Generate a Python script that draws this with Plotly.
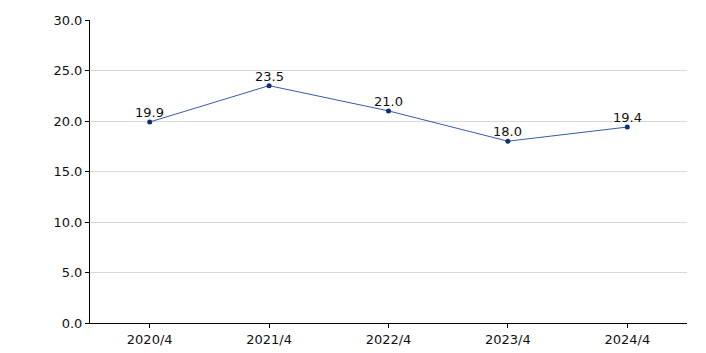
import plotly.graph_objects as go

categories = ["2020/4", "2021/4", "2022/4", "2023/4", "2024/4"]
values = [19.9, 23.5, 21.0, 18.0, 19.4]
y_ticks = [0, 5, 10, 15, 20, 25, 30]

fig = go.Figure()
fig.add_trace(go.Scatter(
    x=categories, y=values,
    mode="lines+markers",
    line=dict(color="#3a5ba8", width=1),
    marker=dict(color="#0d2f7a", size=5),
    showlegend=False,
))

for c, v in zip(categories, values):
    fig.add_annotation(
        x=c, y=v, text=f"{v:.1f}", showarrow=False,
        yanchor="bottom", yshift=0,
        font=dict(family="DejaVu Sans", size=13, color="#111111"),
    )

fig.update_layout(
    width=706, height=353,
    margin=dict(l=90, r=19, t=20, b=30),
    paper_bgcolor="white", plot_bgcolor="white",
    font=dict(family="DejaVu Sans", size=13, color="#111111"),
    xaxis=dict(
        type="category", range=[-0.5, 4.5], automargin=False,
        showline=True, linecolor="black", linewidth=1,
        ticks="outside", ticklen=4, tickcolor="black",
        showgrid=False, zeroline=False,
        tickfont=dict(size=13),
    ),
    yaxis=dict(
        range=[0, 30], tickvals=y_ticks, automargin=False,
        ticktext=[f"{t:.1f}" for t in y_ticks],
        showline=True, linecolor="black", linewidth=1,
        ticks="outside", ticklen=4, tickcolor="black",
        showgrid=True, gridcolor="#d9d9d9", gridwidth=1,
        zeroline=False,
        tickfont=dict(size=13),
    ),
)

fig.write_html("out.html")
